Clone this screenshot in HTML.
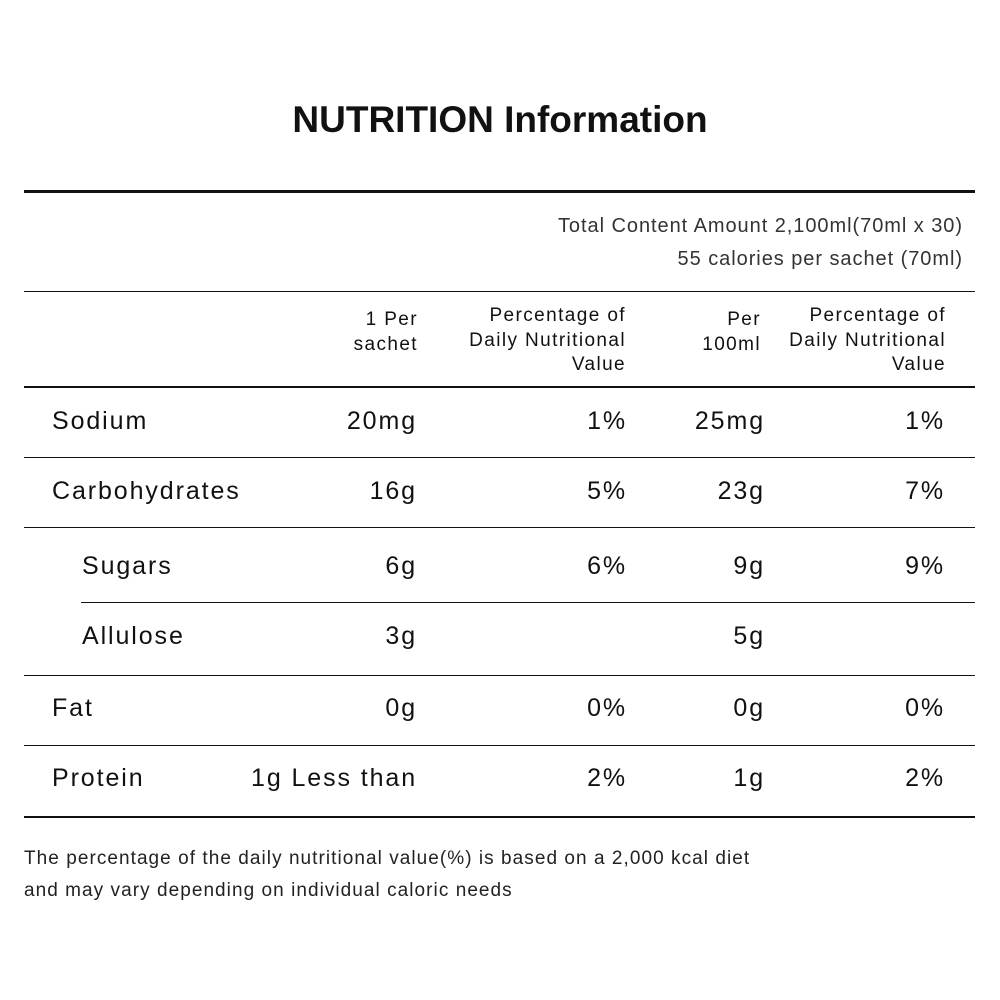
<!DOCTYPE html>
<html><head><meta charset="utf-8"><style>
body{margin:0;width:1000px;height:1000px;background:#fff;position:relative;font-family:"Liberation Sans","Noto Sans CJK KR",sans-serif;color:#111;overflow:hidden}
.t{position:absolute;white-space:nowrap;line-height:1}
.r{text-align:right}
.h{position:absolute;background:#111}
.val{font-size:25px;letter-spacing:1.9px}
.hd{font-size:19px;line-height:24.5px;text-align:right;letter-spacing:1.4px}
</style></head><body>
<div class="t" style="left:0;width:1000px;text-align:center;top:101px;font-size:37px;font-weight:bold">NUTRITION Information</div>
<div class="h" style="left:24px;width:951px;top:190px;height:3px"></div>
<div class="t r" style="right:37px;top:216px;font-size:20px;color:#333;letter-spacing:0.95px">Total Content Amount 2,100ml(70ml x 30)</div>
<div class="t r" style="right:37px;top:249px;font-size:20px;color:#333;letter-spacing:0.95px">55 calories per sachet (70ml)</div>
<div class="h" style="left:24px;width:951px;top:291px;height:1px"></div>
<div class="t hd" style="right:582px;top:308px">1 Per<br>sachet</div>
<div class="t hd" style="right:374px;top:304px">Percentage of<br>Daily Nutritional<br>Value</div>
<div class="t hd" style="right:239px;top:308px">Per<br>100ml</div>
<div class="t hd" style="right:54px;top:304px">Percentage of<br>Daily Nutritional<br>Value</div>
<div class="h" style="left:24px;width:951px;top:386px;height:2px"></div>

<div class="h" style="left:24px;width:951px;top:816px;height:2px"></div>
<div class="t" style="left:24px;top:843px;font-size:19px;line-height:32px;color:#222;letter-spacing:1.05px">The percentage of the daily nutritional value(%) is based on a 2,000 kcal diet<br>and may vary depending on individual caloric needs</div>
<script>
const labels=["Sodium","Carbohydrates","Sugars","Allulose","Fat","Protein"];
const perSachet=["20mg","16g","6g","3g","0g","1g Less than"];
const dv1=["1%","5%","6%","","0%","2%"];
const per100=["25mg","23g","9g","5g","0g","1g"];
const dv2=["1%","7%","9%","","0%","2%"];
const rowY=[422,492,567,637,709,779];
const lineY=[457,527,602,675,745];
const indent=[0,0,1,1,0,0];
const c=document.body;
function txt(s,style,name){const d=document.createElement('div');d.className='t val';d.textContent=s;d.style.cssText=style;


c.appendChild(d);}
labels.forEach((l,i)=>{const top=rowY[i]-13;
txt(l,`left:${indent[i]?82:52}px;top:${top}px`,'row-label');
txt(perSachet[i],`right:583px;top:${top}px;text-align:right`,'per-sachet-value');
txt(dv1[i],`right:373px;top:${top}px;text-align:right`,'dv-sachet-value');
txt(per100[i],`right:235px;top:${top}px;text-align:right`,'per-100ml-value');
txt(dv2[i],`right:55px;top:${top}px;text-align:right`,'dv-100ml-value');});
lineY.forEach((y,i)=>{const h=document.createElement('div');h.className='h';const x=i==2?81:24;
h.style.cssText=`left:${x}px;width:${975-x}px;top:${y}px;height:1px`;


c.appendChild(h);});
</script>
</body></html>
